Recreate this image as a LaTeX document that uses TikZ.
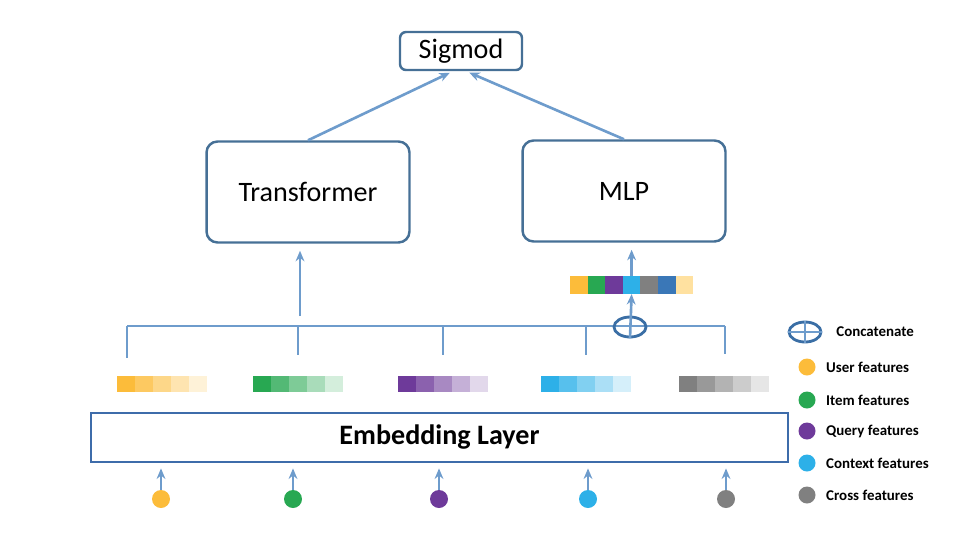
\documentclass[tikz,border=0pt]{standalone}
\usepackage{fontspec}
\setmainfont{Carlito}
\usetikzlibrary{arrows.meta, positioning, shapes.geometric}

\definecolor{linkblue}{RGB}{110,156,204}
\definecolor{boxblue}{RGB}{70,112,150}
\definecolor{embblue}{RGB}{62,108,170}
\definecolor{catblue}{RGB}{58,110,165}
\definecolor{featorange}{RGB}{252,188,58}
\definecolor{featgreen}{RGB}{40,168,82}
\definecolor{featpurple}{RGB}{110,58,154}
\definecolor{featblue}{RGB}{45,176,232}
\definecolor{featgray}{RGB}{128,128,128}
\definecolor{featdark}{RGB}{58,119,183}
\definecolor{featcream}{RGB}{255,225,160}

\begin{document}
\begin{tikzpicture}[
        x=0.02cm, y=-0.02cm, >={Stealth[length=6pt,width=5pt]},
        block/.style={draw=boxblue, line width=1.4pt, rounded corners=0.22cm,
            minimum width=4.06cm, minimum height=2.02cm, font=\fontsize{16}{19}\selectfont},
        small block/.style={draw=boxblue, line width=1.4pt, rounded corners=0.12cm,
            minimum width=2.44cm, minimum height=0.76cm, font=\fontsize{16}{19}\selectfont},
        link/.style={draw=linkblue, line width=1.5pt},
        cell/.style={inner sep=0pt, outer sep=0pt, minimum width=0.36cm, minimum height=0.32cm},
        catcell/.style={inner sep=0pt, outer sep=0pt, minimum width=0.352cm, minimum height=0.36cm},
        dot/.style={circle, inner sep=0pt, minimum size=0.36cm},
        legtext/.style={inner sep=0pt, font=\fontsize{8.5}{10}\selectfont\bfseries},
        concat/.style={ellipse, draw=catblue, line width=1.6pt, inner sep=0pt,
            minimum width=0.64cm, minimum height=0.4cm},
        ]
        \useasboundingbox (0,0) rectangle (970,559);

        % blocks
        \node[small block]  (sig)   at (461,51)  {Sigmod};
        \node[block]        (trans) at (308,192) {Transformer};
        \node[block]        (mlp)   at (624,191) {MLP};
        \node[draw=embblue, line width=1.6pt, minimum width=13.94cm, minimum height=0.98cm,
              font=\fontsize{16}{19}\selectfont\bfseries] (emb) at (439.5,437.5) {Embedding Layer};

        \draw[link,->,shorten >=2pt] (trans.north) -- ([xshift=-0.16cm]sig.south);
        \draw[link,->,shorten >=2pt] (mlp.north) -- ([xshift=0.1cm]sig.south);

        % concatenated vector
        \foreach \col [count=\i] in {featorange, featgreen, featpurple, featblue, featgray, featdark, featcream}
            \node[catcell, fill=\col] (cb_\i) at ({570+17.6*(\i-0.5)},285) {};
        \draw[link,->,shorten >=4pt] (cb_4.north) -- (cb_4.north |- mlp.south);

        % bus
        \coordinate (bus_l) at (127,326);
        \coordinate (bus_r) at (725,326);
        \draw[link] (bus_l) -- (bus_r);
        \foreach \x/\y in {127/358, 298/355, 443/355, 586/355, 725/354}
            \draw[link] (\x,326) -- (\x,\y);
        \coordinate (t_in) at (300,316);
        \draw[link,->,shorten >=4pt] (t_in) -- (t_in |- trans.south);

        \node[concat] (cat) at (630,327) {};
        \draw[link,->] (cat.south) -- (cb_4.south);

        % embeddings
        \foreach \name/\col/\x in {u/featorange/117, i/featgreen/253, q/featpurple/398, c/featblue/541, x/featgray/679}
            \foreach \k/\op in {1/100, 2/80, 3/60, 4/40, 5/20}
                \node[cell, fill=\col!\op] (\name_\k) at ({\x+18*(\k-0.5)},384) {};

        % inputs
        \foreach \col/\x [count=\i] in {featorange/161, featgreen/293, featpurple/439, featblue/588, featgray/726} {
            \node[dot, fill=\col] (in_\i) at (\x,499) {};
            \draw[link,->,shorten >=0.1cm] (in_\i.north) -- (in_\i.north |- emb.south);
        }

        % legend
        \node[concat] (leg_cat) at (805,332) {};
        \draw[link] (leg_cat.west) -- (leg_cat.east);
        \draw[link] (leg_cat.north) -- (leg_cat.south);
        \node[legtext, anchor=west] at (836,332) {Concatenate};
        \foreach \col/\txt/\y [count=\i] in {featorange/User features/367, featgreen/Item features/400,
                featpurple/Query features/431, featblue/Context features/463, featgray/Cross features/495} {
            \node[dot, fill=\col, minimum size=0.34cm] (leg_\i) at (807,\y) {};
            \node[legtext, right=0.2cm of leg_\i] {\txt};
        }
\end{tikzpicture}
\end{document}
